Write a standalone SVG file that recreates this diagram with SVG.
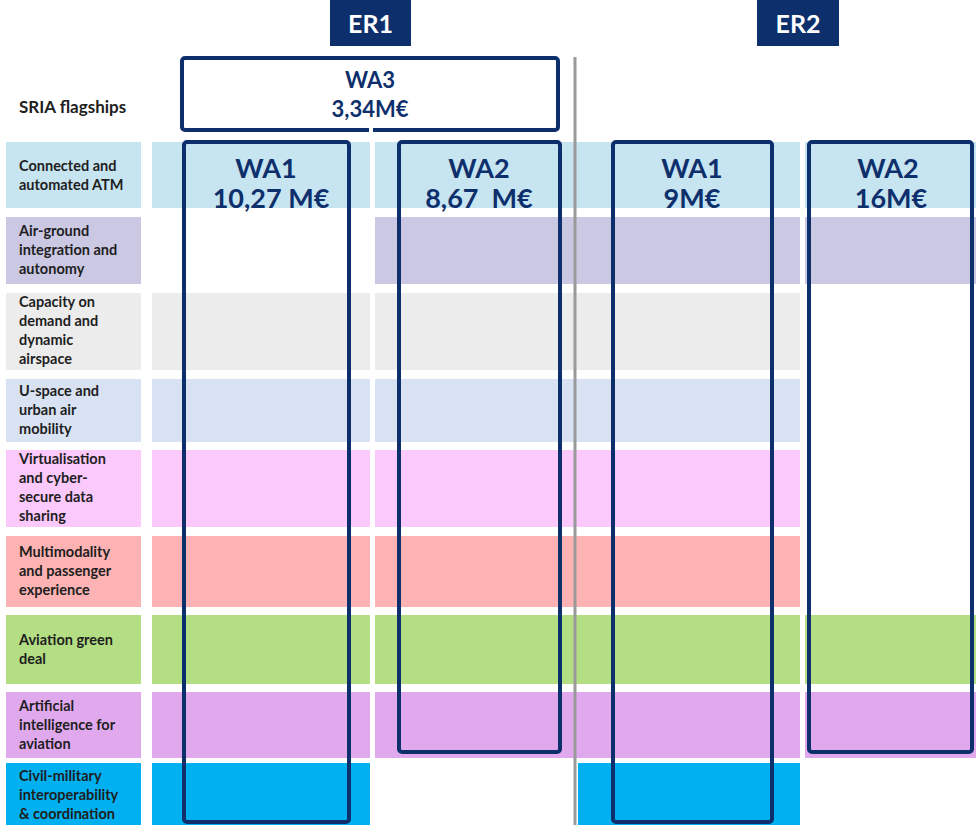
<svg xmlns="http://www.w3.org/2000/svg" width="976" height="825" viewBox="0 0 976 825">
<style>
.lbl{font-family:Lato,"Open Sans","Liberation Sans",sans-serif;font-weight:700;font-size:14.5px;fill:#1e1e1e}
.wa{font-family:Lato,"Open Sans","Liberation Sans",sans-serif;font-weight:700;font-size:27px;fill:#0d2f6b;text-anchor:middle}
.wa3{font-family:Lato,"Open Sans","Liberation Sans",sans-serif;font-weight:700;font-size:22px;fill:#0d2f6b;text-anchor:middle}
.er{font-family:Lato,"Open Sans","Liberation Sans",sans-serif;font-weight:700;font-size:25px;fill:#ffffff;text-anchor:middle}
.box{fill:none;stroke:#0d2f6b;stroke-width:4}
.r1{fill:#c7e4f1}.r2{fill:#cbc8e4}.r3{fill:#ececec}.r4{fill:#d9e2f2}.r5{fill:#fcc9fc}
.r6{fill:#fdb3b3}.r7{fill:#b3de84}.r8{fill:#e1a9ed}.r9{fill:#00b0f0}
</style>
<rect width="976" height="825" fill="#ffffff"/>

<g id="rows">
  <g id="row-connected">
    <rect class="r1" x="6" y="142" width="135" height="66"/>
    <rect class="r1" x="152" y="142" width="218" height="66"/>
    <rect class="r1" x="375" y="142" width="425" height="66"/>
    <rect class="r1" x="805" y="142" width="171" height="66"/>
    <text class="lbl"><tspan x="19" y="171">Connected and</tspan><tspan x="19" y="190">automated ATM</tspan></text>
  </g>
  <g id="row-airground">
    <rect class="r2" x="6" y="217" width="135" height="67"/>
    <rect class="r2" x="375" y="217" width="425" height="67"/>
    <rect class="r2" x="805" y="217" width="171" height="67"/>
    <text class="lbl"><tspan x="19" y="236">Air-ground</tspan><tspan x="19" y="255">integration and</tspan><tspan x="19" y="274">autonomy</tspan></text>
  </g>
  <g id="row-capacity">
    <rect class="r3" x="6" y="293" width="135" height="77"/>
    <rect class="r3" x="152" y="293" width="218" height="77"/>
    <rect class="r3" x="375" y="293" width="425" height="77"/>
    <text class="lbl"><tspan x="19" y="307">Capacity on</tspan><tspan x="19" y="326">demand and</tspan><tspan x="19" y="345">dynamic</tspan><tspan x="19" y="364">airspace</tspan></text>
  </g>
  <g id="row-uspace">
    <rect class="r4" x="6" y="379" width="135" height="63"/>
    <rect class="r4" x="152" y="379" width="218" height="63"/>
    <rect class="r4" x="375" y="379" width="425" height="63"/>
    <text class="lbl"><tspan x="19" y="396">U-space and</tspan><tspan x="19" y="415">urban air</tspan><tspan x="19" y="434">mobility</tspan></text>
  </g>
  <g id="row-virtualisation">
    <rect class="r5" x="6" y="450" width="135" height="77"/>
    <rect class="r5" x="152" y="450" width="218" height="77"/>
    <rect class="r5" x="375" y="450" width="425" height="77"/>
    <text class="lbl"><tspan x="19" y="464">Virtualisation</tspan><tspan x="19" y="483">and cyber-</tspan><tspan x="19" y="502">secure data</tspan><tspan x="19" y="521">sharing</tspan></text>
  </g>
  <g id="row-multimodality">
    <rect class="r6" x="6" y="536" width="135" height="71"/>
    <rect class="r6" x="152" y="536" width="218" height="71"/>
    <rect class="r6" x="375" y="536" width="425" height="71"/>
    <text class="lbl"><tspan x="19" y="557">Multimodality</tspan><tspan x="19" y="576">and passenger</tspan><tspan x="19" y="595">experience</tspan></text>
  </g>
  <g id="row-green">
    <rect class="r7" x="6" y="615" width="135" height="69"/>
    <rect class="r7" x="152" y="615" width="218" height="69"/>
    <rect class="r7" x="375" y="615" width="425" height="69"/>
    <rect class="r7" x="805" y="615" width="171" height="69"/>
    <text class="lbl"><tspan x="19" y="645">Aviation green</tspan><tspan x="19" y="664">deal</tspan></text>
  </g>
  <g id="row-ai">
    <rect class="r8" x="6" y="692" width="135" height="66"/>
    <rect class="r8" x="152" y="692" width="218" height="66"/>
    <rect class="r8" x="375" y="692" width="425" height="66"/>
    <rect class="r8" x="805" y="692" width="171" height="66"/>
    <text class="lbl"><tspan x="19" y="711">Artificial</tspan><tspan x="19" y="730">intelligence for</tspan><tspan x="19" y="749">aviation</tspan></text>
  </g>
  <g id="row-civilmilitary">
    <rect class="r9" x="6" y="763" width="135" height="62"/>
    <rect class="r9" x="152" y="763" width="218" height="62"/>
    <rect class="r9" x="578" y="763" width="222" height="62"/>
    <text class="lbl"><tspan x="19" y="781">Civil-military</tspan><tspan x="19" y="800">interoperability</tspan><tspan x="19" y="819">&amp; coordination</tspan></text>
  </g>
</g>

<g id="sria-label">
  <text class="lbl" x="19" y="113" style="font-size:17px">SRIA flagships</text>
</g>

<g id="connectors">
  <line x1="575" y1="57" x2="575" y2="825" stroke="#9a9a9a" stroke-width="3"/>
</g>

<g id="er1">
  <rect x="330" y="0" width="81" height="46" fill="#0d2f6b"/>
  <text class="er" x="370.5" y="33">ER1</text>
</g>
<g id="er2">
  <rect x="757" y="0" width="82" height="46" fill="#0d2f6b"/>
  <text class="er" x="798" y="33">ER2</text>
</g>

<g id="er1-wa3">
  <rect class="box" x="182" y="58" width="376" height="72" rx="3" fill="#ffffff"/>
  <rect x="369" y="126" width="4" height="8" fill="#ffffff"/>
  <text class="wa3" x="370" y="88">WA3</text>
  <text class="wa3" x="370" y="117">3,34M€</text>
</g>
<g id="er1-wa1">
  <rect class="box" x="184" y="142" width="165" height="680" rx="3"/>
  <text class="wa" x="266" y="178">WA1</text>
  <text class="wa" x="271" y="208">10,27 M€</text>
</g>
<g id="er1-wa2">
  <rect class="box" x="399" y="142" width="161" height="610" rx="3"/>
  <text class="wa" x="479" y="178">WA2</text>
  <text class="wa" x="479" y="208">8,67&#160; M€</text>
</g>
<g id="er2-wa1">
  <rect class="box" x="613" y="142" width="159" height="680" rx="3"/>
  <text class="wa" x="692" y="178">WA1</text>
  <text class="wa" x="692" y="208">9M€</text>
</g>
<g id="er2-wa2">
  <rect class="box" x="809" y="142" width="163" height="610" rx="3"/>
  <text class="wa" x="888" y="178">WA2</text>
  <text class="wa" x="891" y="208">16M€</text>
</g>
</svg>
